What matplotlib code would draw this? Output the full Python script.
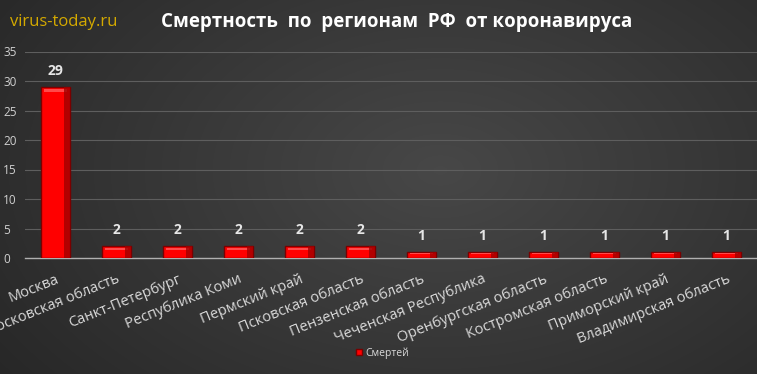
import numpy as np
import matplotlib
matplotlib.use("Agg")
import matplotlib.pyplot as plt
from matplotlib.patches import Rectangle

regions = ["Москва", "Московская область", "Санкт-Петербург", "Республика Коми",
           "Пермский край", "Псковская область", "Пензенская область",
           "Чеченская Республика", "Оренбургская область", "Костромская область",
           "Приморский край", "Владимирская область"]
deaths = [29, 2, 2, 2, 2, 2, 1, 1, 1, 1, 1, 1]
yticks = [0, 5, 10, 15, 20, 25, 30, 35]
series_name = "Смертей"
title = "Смертность  по  регионам  РФ  от коронавируса"
site = "virus-today.ru"

plt.rcParams['font.family'] = ['Open Sans', 'DejaVu Sans']

fig = plt.figure(figsize=(7.57, 3.74), dpi=100)

# background gradient
bg = fig.add_axes([0, 0, 1, 1])
yy, xx = np.mgrid[0:374, 0:757]
cx, cy = 440, 170
r = np.sqrt(((xx - cx) / 520.0) ** 2 + ((yy - cy) / 330.0) ** 2)
val = 0.28 - 0.12 * np.clip(r, 0, 1.3)
img = np.dstack([val, val, val])
bg.imshow(img, aspect='auto', extent=[0, 1, 0, 1], origin='upper')
bg.set_axis_off()

ax = fig.add_axes([25 / 757, 1 - 258 / 374, 732 / 757, (258 - 51.5) / 374])
ax.patch.set_alpha(0)
x = np.arange(len(regions))
bars = ax.bar(x, deaths, width=0.46, color='#ff0000', edgecolor='#7a0000',
              linewidth=1.0, zorder=3, label=series_name)
# bevel highlight on top of each bar
for b in bars:
    h = b.get_height()
    bx = b.get_x()
    w = b.get_width()
    band = min(0.9, h * 0.35)
    ax.add_patch(Rectangle((bx + w * 0.08, h - band * 1.0), w * 0.84, band * 0.55,
                           facecolor='#ff4a4a', edgecolor='none', zorder=4))
    ax.add_patch(Rectangle((bx + w * 0.82, 0), w * 0.18, h,
                           facecolor='#a00000', edgecolor='none', zorder=4, alpha=0.8))
    ax.text(bx + w / 2, h + 1.5, str(int(h)), ha='center', va='bottom',
            color='#e6e6e6', fontsize=10, fontweight='bold', zorder=5)

ax.set_xlim(-0.5, len(regions) - 0.5)
ax.set_ylim(0, 35)
ax.set_yticks(yticks)
ax.set_yticklabels([str(t) for t in yticks], color='#d0d0d0', fontsize=8.5)
ax.yaxis.grid(True, color='#5e5e5e', linewidth=0.8, zorder=0)
ax.set_axisbelow(True)
for s in ['top', 'right', 'left']:
    ax.spines[s].set_visible(False)
ax.spines['bottom'].set_color('#b0b0b0')
ax.spines['bottom'].set_linewidth(1.0)
ax.tick_params(axis='both', length=0, pad=3)
ax.set_xticks(x)
ax.set_xticklabels(regions, rotation=22, ha='right', rotation_mode='anchor',
                   color='#d9d9d9', fontsize=10.5)
ax.tick_params(axis='x', pad=10)
for lbl in ax.get_yticklabels():
    lbl.set_horizontalalignment('left')
    lbl.set_x(-22 / 732)
    lbl.set_transform(ax.get_yaxis_transform())

fig.text(10 / 757, 1 - 22 / 374, site, color='#d4a900', fontsize=12,
         va='center', ha='left')
fig.text(397 / 757, 1 - 22 / 374, title, color='white', fontsize=13.5,
         fontweight='bold', va='center', ha='center')

leg = fig.legend(handles=[bars], labels=[series_name], loc='center',
                 bbox_to_anchor=(382 / 757, 1 - 353 / 374), frameon=False,
                 fontsize=7.5, handlelength=0.6, handleheight=0.6,
                 handletextpad=0.3, labelcolor='#d9d9d9')

fig.savefig("out.png", dpi=100)
